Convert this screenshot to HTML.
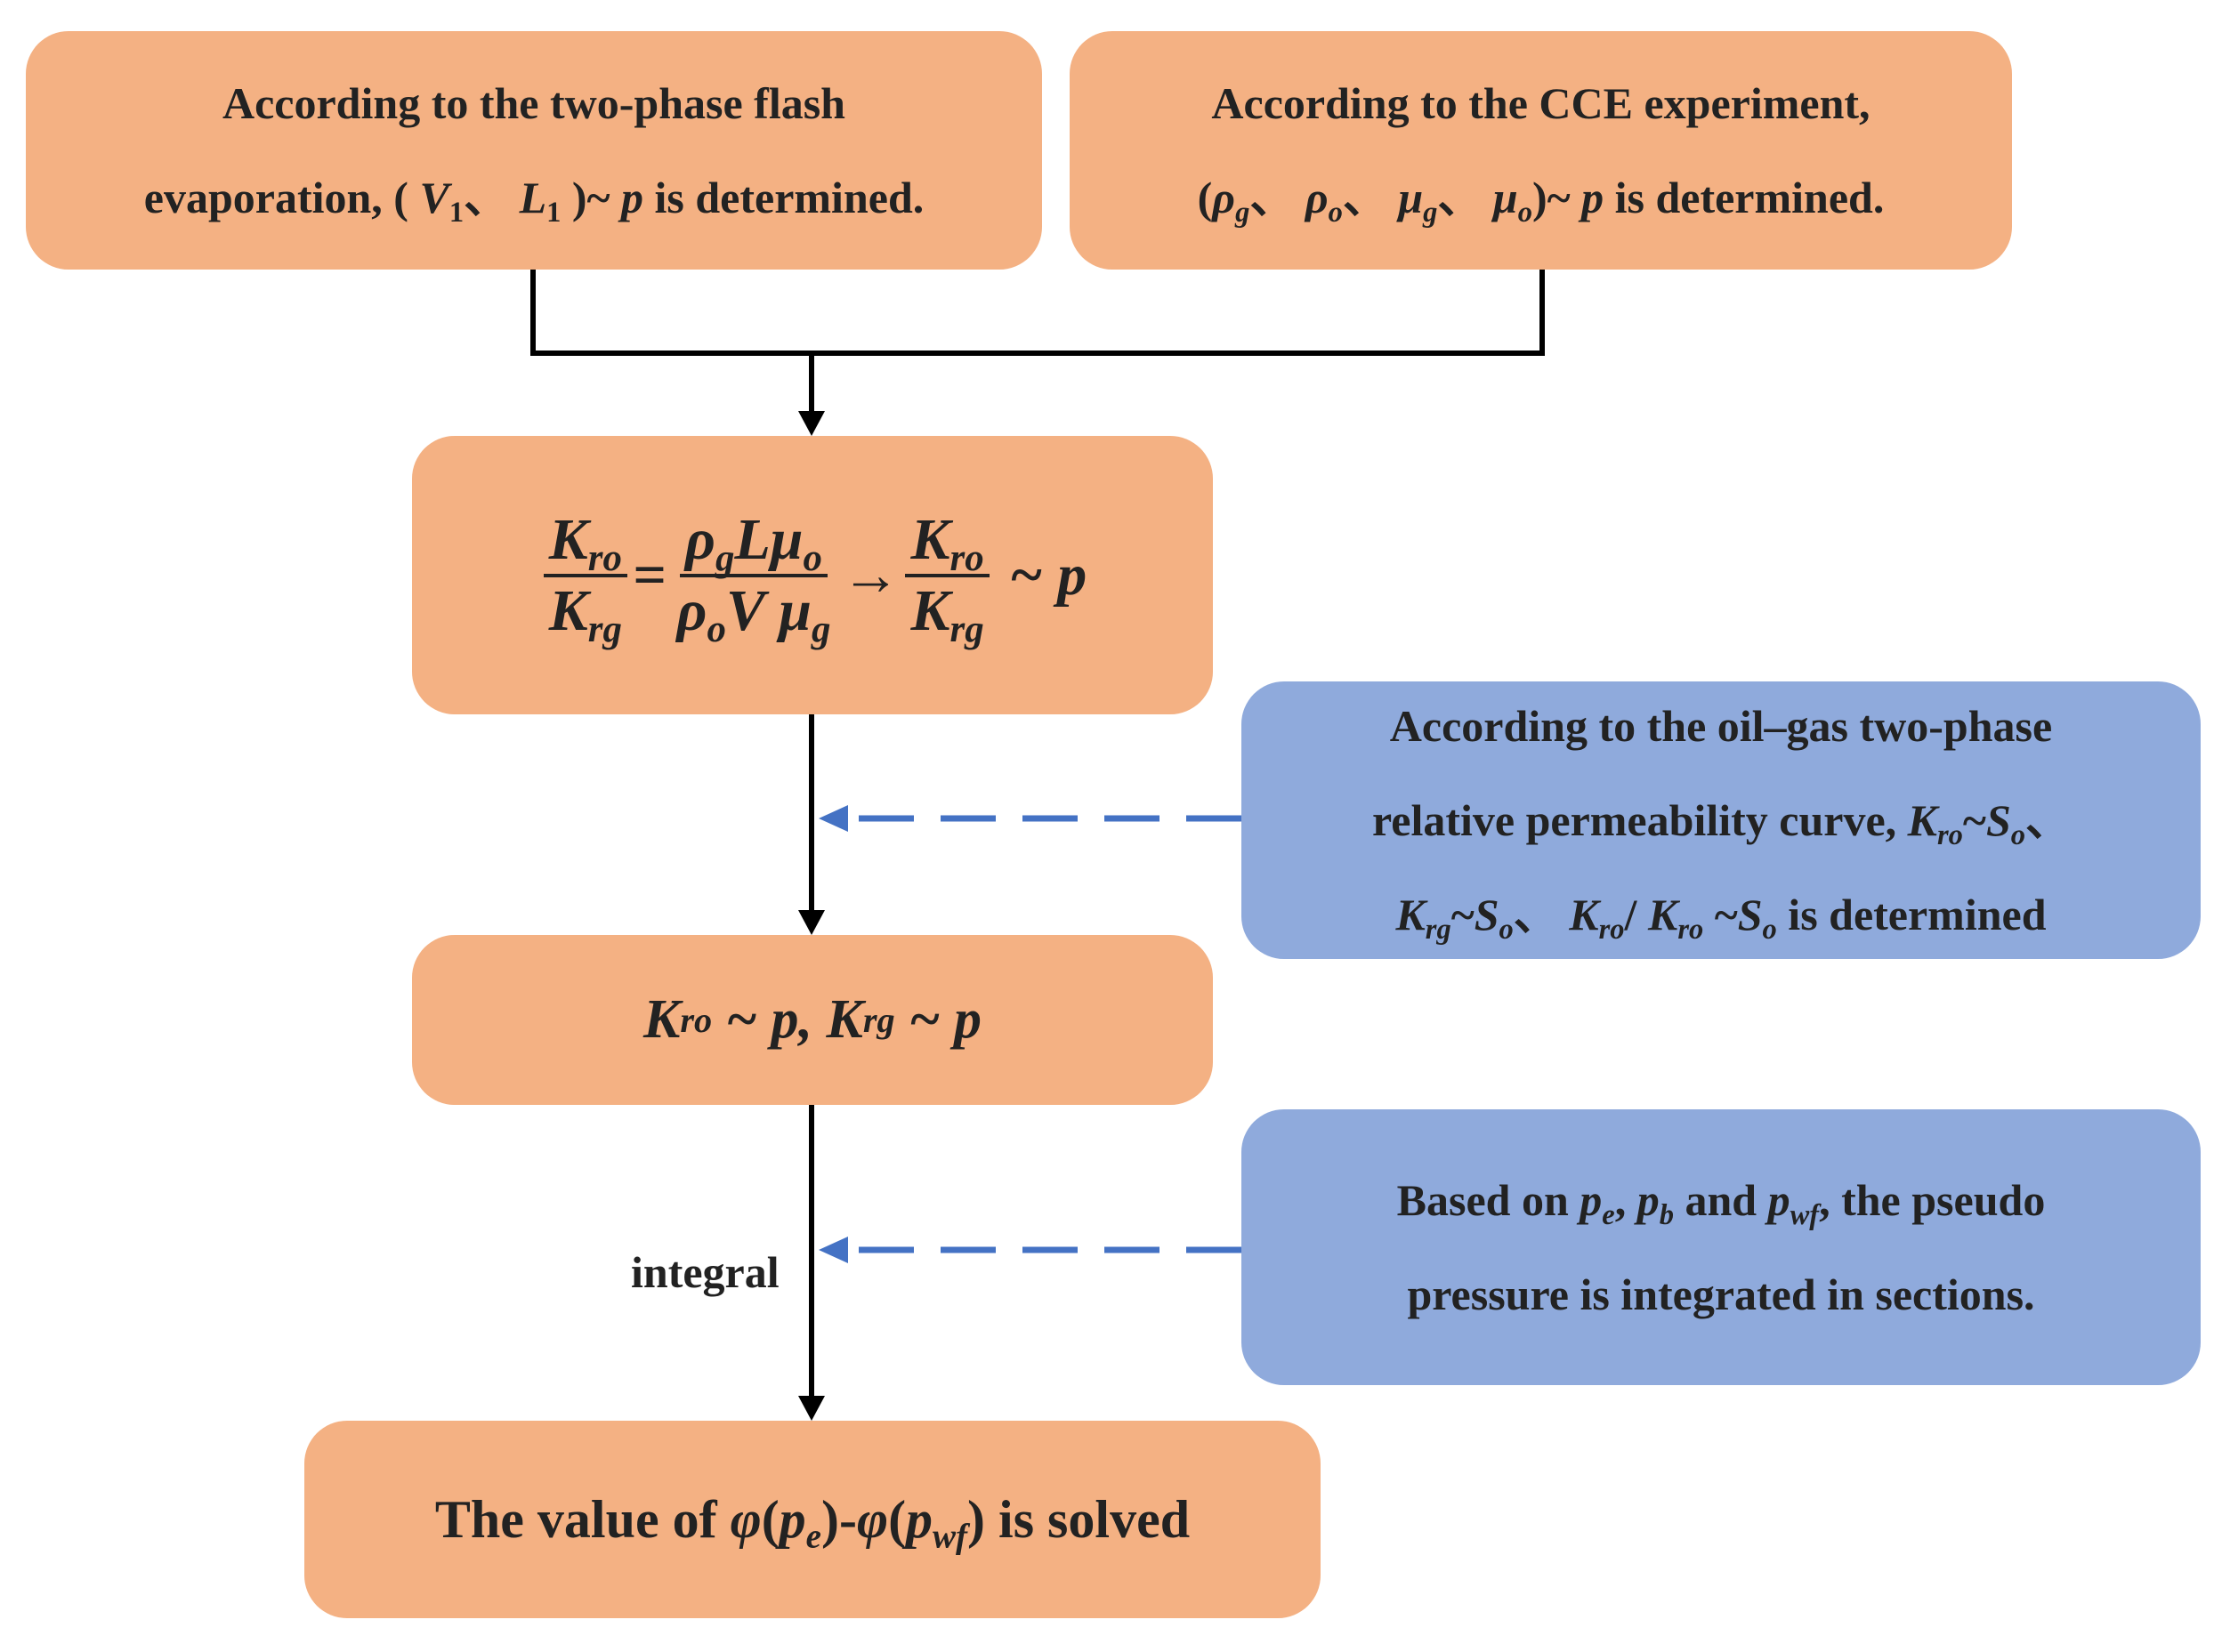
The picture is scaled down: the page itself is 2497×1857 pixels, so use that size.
<!DOCTYPE html>
<html><head><meta charset="utf-8"><style>
html,body{margin:0;padding:0;background:#fff;}
body{width:2497px;height:1857px;position:relative;overflow:hidden;font-family:"Liberation Serif",serif;font-weight:bold;color:#222;}
.b{position:absolute;border-radius:48px;display:flex;align-items:center;justify-content:center;text-align:center;box-sizing:border-box;}
.o{background:#F4B183;}
.bl{background:#8FAADC;}
.t{font-size:50px;line-height:106px;}
i{font-style:italic;}
sub{font-size:0.65em;vertical-align:-0.3em;line-height:0;}
.f{display:inline-flex;flex-direction:column;align-items:center;vertical-align:middle;margin:0 6px;}
.f span{display:block;padding:0 6px;line-height:1.15;}
.f .n{border-bottom:4px solid #222;}
.m{font-size:66px;font-style:italic;display:flex;align-items:center;}
</style></head><body>
<div class="b o t" style="left:29px;top:35px;width:1142px;height:268px;"><div>According to the two-phase flash<br>evaporation, ( <i>V</i><sub>1</sub>、 <i>L</i><sub>1</sub> )~ <i>p</i> is determined.</div></div>
<div class="b o t" style="left:1202px;top:35px;width:1059px;height:268px;"><div>According to the CCE experiment,<br>(<i>ρ<sub>g</sub></i>、 <i>ρ<sub>o</sub></i>、 <i>μ<sub>g</sub></i>、 <i>μ<sub>o</sub></i>)~ <i>p</i> is determined.</div></div>

<svg style="position:absolute;left:0;top:0" width="2497" height="1857">
<polyline points="599,303 599,397 1733,397 1733,303" fill="none" stroke="#000" stroke-width="6"/>
<line x1="912" y1="397" x2="912" y2="465" stroke="#000" stroke-width="6"/>
<polygon points="897,462 927,462 912,490" fill="#000"/>
<line x1="912" y1="803" x2="912" y2="1026" stroke="#000" stroke-width="6"/>
<polygon points="897,1023 927,1023 912,1051" fill="#000"/>
<line x1="912" y1="1242" x2="912" y2="1572" stroke="#000" stroke-width="6"/>
<polygon points="897,1569 927,1569 912,1597" fill="#000"/>
<line x1="1395" y1="920" x2="955" y2="920" stroke="#4472C4" stroke-width="7" stroke-dasharray="62,30"/>
<polygon points="920,920 953,905 953,935" fill="#4472C4"/>
<line x1="1395" y1="1405" x2="955" y2="1405" stroke="#4472C4" stroke-width="7" stroke-dasharray="62,30"/>
<polygon points="920,1405 953,1390 953,1420" fill="#4472C4"/>
</svg>

<div class="b o" style="left:463px;top:490px;width:900px;height:313px;">
<div class="m"><span class="f"><span class="n">K<sub>ro</sub></span><span>K<sub>rg</sub></span></span>=<span class="f"><span class="n">ρ<sub>g</sub>Lμ<sub>o</sub></span><span>ρ<sub>o</sub>V μ<sub>g</sub></span></span><span style="font-style:normal">→</span><span class="f"><span class="n">K<sub>ro</sub></span><span>K<sub>rg</sub></span></span>&nbsp;~ p</div></div>

<div class="b bl t" style="left:1395px;top:766px;width:1078px;height:312px;"><div>According to the oil–gas two-phase<br>relative permeability curve, <i>K<sub>ro</sub></i>~<i>S<sub>o</sub></i>、<br><i>K<sub>rg</sub></i>~<i>S<sub>o</sub></i>、 <i>K<sub>ro</sub></i>/ <i>K<sub>ro</sub></i> ~<i>S<sub>o</sub></i> is determined</div></div>

<div class="b o" style="left:463px;top:1051px;width:900px;height:191px;"><div class="m" style="font-size:62px">K<sub>ro</sub>&nbsp;~ p, K<sub>rg</sub>&nbsp;~ p</div></div>

<div class="b bl t" style="left:1395px;top:1247px;width:1078px;height:310px;"><div>Based on <i>p<sub>e</sub></i>, <i>p<sub>b</sub></i> and <i>p<sub>wf</sub></i>, the pseudo<br>pressure is integrated in sections.</div></div>

<div style="position:absolute;left:709px;top:1400px;font-size:50px;line-height:60px;">integral</div>

<div class="b o" style="left:342px;top:1597px;width:1142px;height:222px;font-size:60px;"><div>The value of <i>φ</i>(<i>p<sub>e</sub></i>)-<i>φ</i>(<i>p<sub>wf</sub></i>) is solved</div></div>
</body></html>
